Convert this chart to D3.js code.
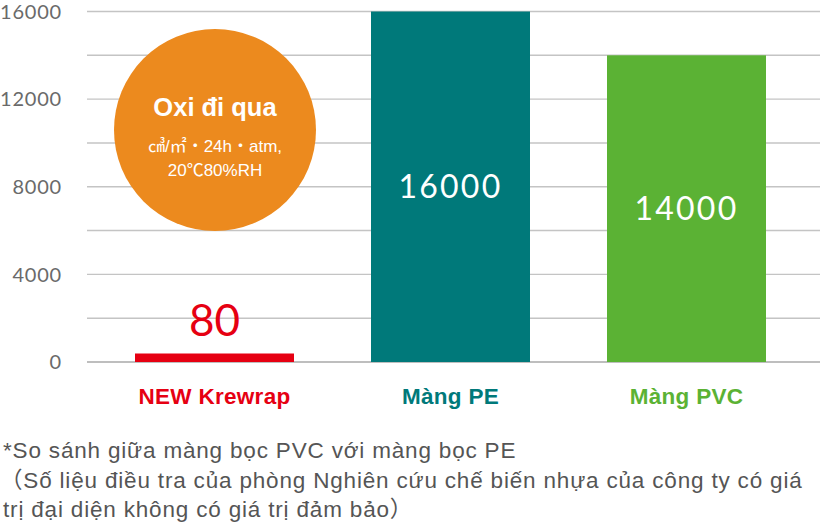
<!DOCTYPE html>
<html>
<head>
<meta charset="utf-8">
<script src="https://cdn.jsdelivr.net/npm/d3@7"></script>
<style>
  body { margin: 0; background: #fff; }
  svg { display: block; }
</style>
</head>
<body>
<svg id="chart" width="820" height="528"></svg>
<script>
// chart data
let categories = ["NEW Krewrap", "Màng PE", "Màng PVC"];
let values = [80, 16000, 14000];
let barColors = ["#e60012", "#00797a", "#5bb234"];
let yTicks = [0, 4000, 8000, 12000, 16000];
let gridTicks = [0, 2000, 4000, 6000, 8000, 10000, 12000, 14000, 16000];
let badgeTitle = "Oxi đi qua";
let badgeLines = ["㎤/㎡・24h・atm,", "20℃80%RH"];
let notes = [
    "*So sánh giữa màng bọc PVC với màng bọc PE",
    "（Số liệu điều tra của phòng Nghiên cứu chế biến nhựa của công ty có giá",
    "trị đại diện không có giá trị đảm bảo）"
];

let svg = d3.select("#chart");

let y = d3.scaleLinear().domain([0, 16000]).range([362, 11.5]);
let x = d3.scaleBand().domain(categories)
    .range([99.6, 801.4]).paddingInner(0.3263).paddingOuter(0.15);

// grid lines
svg.append("g")
    .selectAll("line")
    .data(gridTicks)
    .enter()
    .append("line")
    .attr("x1", 87)
    .attr("x2", 820)
    .attr("y1", d => y(d))
    .attr("y2", d => y(d))
    .attr("stroke", d => d === 0 ? "#a8a8a8" : "#c4c4c4")
    .attr("stroke-width", 1.4);

// y tick labels
svg.append("g")
    .selectAll("text")
    .data(yTicks)
    .enter()
    .append("text")
    .attr("x", 62)
    .attr("y", d => y(d))
    .attr("dy", "0.36em")
    .attr("text-anchor", "end")
    .attr("font-family", "Lato")
    .attr("font-size", 20)
    .attr("letter-spacing", 0.8)
    .attr("fill", "#6a6a6a")
    .text(d => d);

// bars (tiny value gets a minimum visible height)
let barTop = (d) => Math.min(y(d), y(0) - 8.5);
svg.append("g")
    .selectAll("rect")
    .data(values)
    .enter()
    .append("rect")
    .attr("x", (d, i) => x(categories[i]))
    .attr("width", x.bandwidth())
    .attr("y", d => barTop(d))
    .attr("height", d => y(0) - barTop(d))
    .attr("fill", (d, i) => barColors[i]);

// value labels
svg.append("g")
    .selectAll("text")
    .data(values)
    .enter()
    .append("text")
    .attr("x", (d, i) => x(categories[i]) + x.bandwidth() / 2)
    .attr("y", (d, i) => i === 0 ? barTop(d) - 18 : (y(d) + y(0)) / 2 + 11)
    .attr("text-anchor", "middle")
    .attr("font-family", "Lato")
    .attr("font-size", (d, i) => i === 0 ? 44 : 32)
    .attr("letter-spacing", (d, i) => i === 0 ? 0 : 2.2)
    .attr("fill", (d, i) => i === 0 ? barColors[0] : "#fff")
    .text(d => d);

// category labels
svg.append("g")
    .selectAll("text")
    .data(categories)
    .enter()
    .append("text")
    .attr("x", d => x(d) + x.bandwidth() / 2)
    .attr("y", 404)
    .attr("text-anchor", "middle")
    .attr("font-family", "Liberation Sans")
    .attr("font-weight", "bold")
    .attr("font-size", 22.5)
    .attr("letter-spacing", 0.3)
    .attr("fill", (d, i) => barColors[i])
    .text(d => d);

// orange badge
let badge = svg.append("g").attr("transform", "translate(215,130)");
badge.append("circle").attr("r", 101).attr("fill", "#ec8a1e");
badge.append("text")
    .attr("y", -14)
    .attr("text-anchor", "middle")
    .attr("font-family", "Liberation Sans")
    .attr("font-weight", "bold")
    .attr("font-size", 25.5)
    .attr("fill", "#fff")
    .text(badgeTitle);
badge.selectAll("text.sub")
    .data(badgeLines)
    .enter()
    .append("text")
    .attr("class", "sub")
    .attr("y", (d, i) => 22 + i * 24)
    .attr("text-anchor", "middle")
    .attr("font-family", "Liberation Sans, Noto Sans CJK JP")
    .attr("font-size", 17)
    .attr("fill", "#fff")
    .text(d => d);

// footnote
svg.append("g")
    .selectAll("text")
    .data(notes)
    .enter()
    .append("text")
    .attr("x", (d, i) => i === 1 ? 0 : 3)
    .attr("y", (d, i) => 458 + i * 29.5)
    .attr("font-family", "Liberation Sans, Noto Sans CJK JP")
    .attr("font-size", 22.5)
    .attr("letter-spacing", 0.82)
    .attr("fill", "#555")
    .text(d => d);
</script>
</body>
</html>
